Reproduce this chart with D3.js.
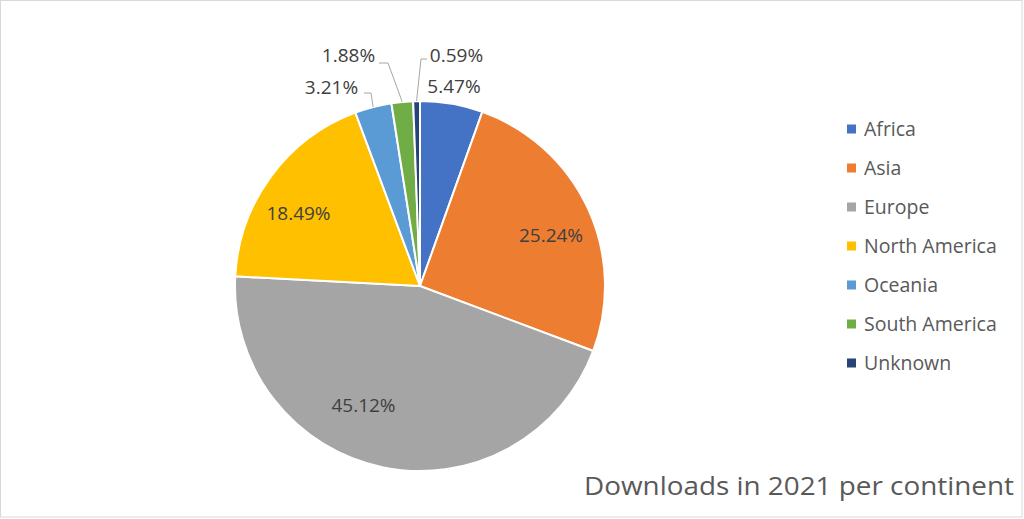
<!DOCTYPE html>
<html>
<head>
<meta charset="utf-8">
<script src="https://cdn.jsdelivr.net/npm/d3@7"></script>
<style>
  html, body { margin: 0; padding: 0; background: #fff; }
  svg { display: block; }
  text { font-family: "Open Sans", sans-serif; fill: #595959; }
</style>
</head>
<body>
<div id="chart"></div>
<script>
const continents = ['Africa', 'Asia', 'Europe', 'North America', 'Oceania', 'South America', 'Unknown'];
const shares = [5.47, 25.24, 45.12, 18.49, 3.21, 1.88, 0.59];
const colours = ['#4472c4', '#ed7d31', '#a5a5a5', '#ffc000', '#5b9bd5', '#70ad47', '#264478'];
const chartTitle = 'Downloads in 2021 per continent';

(() => {
  const w = 1024;
  const h = 519;
  const cx = 420;
  const cy = 286;
  const r = 185;

  const data = continents.map((name, i) => ({ name, value: shares[i], colour: colours[i] }));

  const svg = d3.select('#chart')
    .append('svg')
    .attr('width', w)
    .attr('height', h);

  svg.append('rect')
    .attr('x', 0.5)
    .attr('y', 0.5)
    .attr('width', w - 2.5)
    .attr('height', h - 2.5)
    .attr('fill', '#fff')
    .attr('stroke', '#d9d9d9');

  const pie = d3.pie().sort(null).value(d => d.value);
  const arc = d3.arc().innerRadius(0).outerRadius(r);
  const arcs = pie(data);

  const g = svg.append('g').attr('transform', `translate(${cx},${cy})`);

  g.selectAll('path')
    .data(arcs)
    .enter().append('path')
    .attr('d', arc)
    .attr('fill', d => d.data.colour)
    .attr('stroke', '#fff')
    .attr('stroke-width', 2);

  const fmt = v => `${v.toFixed(2)}%`;

  // label centre x and baseline y, as placed in the original
  const labelPos = {
    Africa: [454, 93],
    Asia: [551, 242],
    Europe: [363.5, 412],
    'North America': [298.5, 220],
    Oceania: [331.5, 94],
    'South America': [348.5, 62],
    Unknown: [456.5, 62],
  };

  svg.selectAll('text.lbl')
    .data(arcs)
    .enter().append('text')
    .attr('class', 'lbl')
    .attr('x', d => labelPos[d.data.name][0])
    .attr('y', d => labelPos[d.data.name][1])
    .attr('text-anchor', 'middle')
    .attr('font-size', 19)
    .style('fill', '#404040')
    .text(d => fmt(d.data.value));

  // leader lines for the thin slices
  const edge = d3.arc().innerRadius(r).outerRadius(r);
  const leaders = {
    Oceania: [[364, 93], [371, 93]],
    'South America': [[379, 63], [388, 63]],
    Unknown: [[427, 59], [421, 59]],
  };
  Object.keys(leaders).forEach((name) => {
    const a = arcs.find(d => d.data.name === name);
    const [ex, ey] = edge.centroid(a);
    const pts = leaders[name].concat([[cx + ex, cy + ey]]);
    svg.append('path')
      .attr('d', d3.line()(pts))
      .attr('fill', 'none')
      .attr('stroke', '#a6a6a6')
      .attr('stroke-width', 1);
  });

  // legend
  const legend = svg.append('g').attr('transform', 'translate(847,129)');
  const row = legend.selectAll('g')
    .data(data)
    .enter().append('g')
    .attr('transform', (d, i) => `translate(0,${i * 39})`);
  row.append('rect')
    .attr('x', 0)
    .attr('y', -4.5)
    .attr('width', 9)
    .attr('height', 9)
    .attr('fill', d => d.colour);
  row.append('text')
    .attr('x', 17)
    .attr('y', 7)
    .attr('font-size', 19.5)
    .text(d => d.name);

  svg.append('text')
    .attr('x', 1014)
    .attr('y', 495)
    .attr('text-anchor', 'end')
    .attr('font-size', 25)
    .attr('textLength', 430)
    .attr('lengthAdjust', 'spacingAndGlyphs')
    .text(chartTitle);
})();
</script>
</body>
</html>
